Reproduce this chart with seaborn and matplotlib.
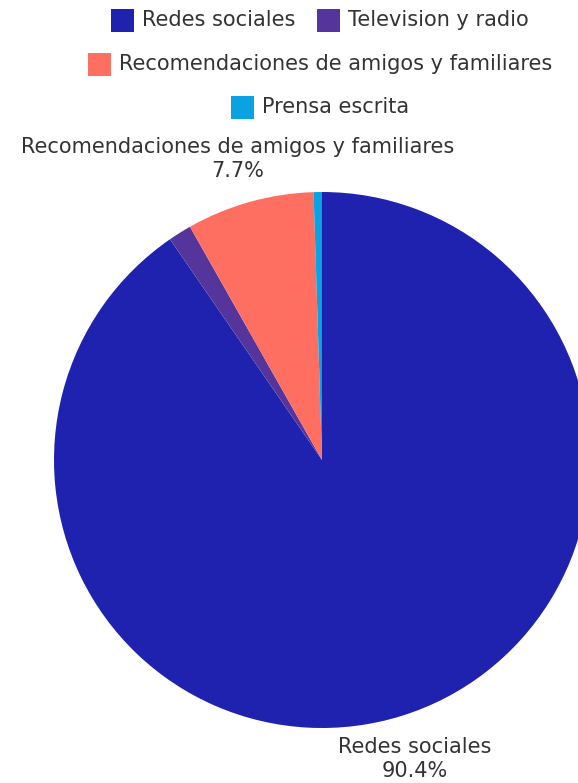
import numpy as np
import matplotlib
matplotlib.use("Agg")
import matplotlib.pyplot as plt
from matplotlib.patches import Rectangle
import seaborn as sns

# Survey: main information channels
categories = ["Redes sociales", "Television y radio",
              "Recomendaciones de amigos y familiares", "Prensa escrita"]
shares = [90.4, 1.4, 7.7, 0.5]
labelled = ["Redes sociales", "Recomendaciones de amigos y familiares"]
colors = ["#1f22ae", "#55359b", "#ff6f61", "#0aa2e0"]

sns.set_theme(style="white")
plt.rcParams["font.family"] = ["DejaVu Sans"]
TEXT = "#333333"

W, H = 578, 783
fig = plt.figure(figsize=(W / 100, H / 100), dpi=100)
ax = fig.add_axes([0, 0, 1, 1])

cx, cy, R = 322, H - 460, 268
wedges, _ = ax.pie(shares, colors=sns.color_palette(colors), startangle=90,
                   counterclock=False, center=(cx, cy), radius=R,
                   wedgeprops=dict(linewidth=0), frame=True)
ax.set_xlim(0, W)
ax.set_ylim(0, H)
ax.set_aspect("auto")
ax.axis("off")

fs = 15

# Outside labels for the larger slices
for w, name, val in zip(wedges, categories, shares):
    if name not in labelled:
        continue
    mid = np.deg2rad((w.theta1 + w.theta2) / 2)
    d = R * 1.168
    x, y = cx + d * np.cos(mid), cy + d * np.sin(mid)
    ax.text(x, y, f"{name}\n{val}%", ha="center", va="center",
            fontsize=fs, color=TEXT, linespacing=1.25)

# Centered legend rows
rows = [[0, 1], [2], [3]]
row_y = [H - 20, H - 64, H - 107]
legend_cx = 320
sw = 23
gap = 8
item_gap = 22
fig.canvas.draw()
renderer = fig.canvas.get_renderer()
for idxs, y in zip(rows, row_y):
    widths = []
    for i in idxs:
        t = ax.text(0, 0, categories[i], fontsize=fs)
        widths.append(t.get_window_extent(renderer).width)
        t.remove()
    total = sum(sw + gap + wd for wd in widths) + item_gap * (len(idxs) - 1)
    x = legend_cx - total / 2
    for i, wd in zip(idxs, widths):
        ax.add_patch(Rectangle((x, y - sw / 2), sw, sw, color=colors[i], lw=0))
        ax.text(x + sw + gap, y, categories[i], fontsize=fs, color=TEXT,
                va="center", ha="left")
        x += sw + gap + wd + item_gap

fig.savefig("out.png", dpi=100)
